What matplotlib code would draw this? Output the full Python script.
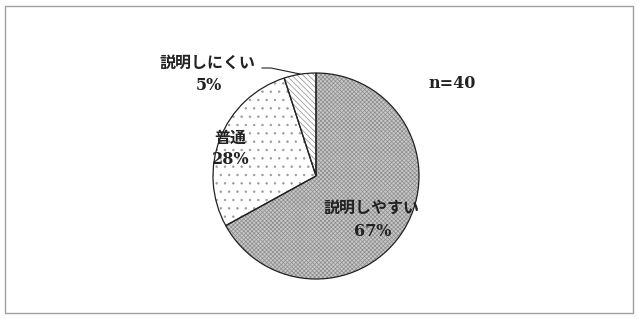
import matplotlib.pyplot as plt
from matplotlib.patches import Rectangle

plt.rcParams['font.family'] = ['DejaVu Serif', 'Noto Sans CJK JP']
plt.rcParams['hatch.linewidth'] = 0.5

# données
labels = ['説明しやすい', '普通', '説明しにくい']
pcts = [67, 28, 5]
n = 40

fig = plt.figure(figsize=(6.39, 3.19), dpi=100)
ax = fig.add_axes([0, 0, 1, 1])

# cadre
ax.add_patch(Rectangle((5, 6), 628, 307, fill=False, ec='#a0a0a0', lw=1))

# motifs (hachures grises) puis contours noirs
faces = ['#c8c8c8', 'white', 'white']
hatches = ['xxxxxxxx', '..', '\\\\\\\\\\\\']
hcols = ['#8c8c8c', '#9a9a9a', '#8a8a8a']
fond, _ = ax.pie(pcts, startangle=90, counterclock=False, center=(316, 143),
                 radius=103, frame=True, colors=faces)
for w, h, c in zip(fond, hatches, hcols):
    w.set_hatch(h)
    w.set_edgecolor(c)
    w.set_linewidth(0)
bord, _ = ax.pie(pcts, startangle=90, counterclock=False, center=(316, 143),
                 radius=103, frame=True,
                 wedgeprops=dict(fill=False, ec='#222222', lw=0.9))

ax.set_xlim(0, 639)
ax.set_ylim(0, 319)
ax.set_aspect('equal')
ax.axis('off')

ts = dict(fontsize=11.5, fontweight='bold', ha='center', va='center', color='#222222')
ax.text(371, 319 - 208, labels[0], **ts)
ax.text(373, 319 - 231, f'{pcts[0]}%', **ts)
ax.text(230, 319 - 138, labels[1], **ts)
ax.text(231, 319 - 159, f'{pcts[1]}%', **ts)
ax.text(207, 319 - 63, labels[2], **ts)
ax.text(209, 319 - 86, f'{pcts[2]}%', **ts)
ax.plot([262, 271, 300], [319 - 68, 319 - 68, 319 - 74], color='#222222', lw=0.8)
ax.text(452, 319 - 84, f'n={n}', **ts)

fig.savefig('out.png', dpi=100)
